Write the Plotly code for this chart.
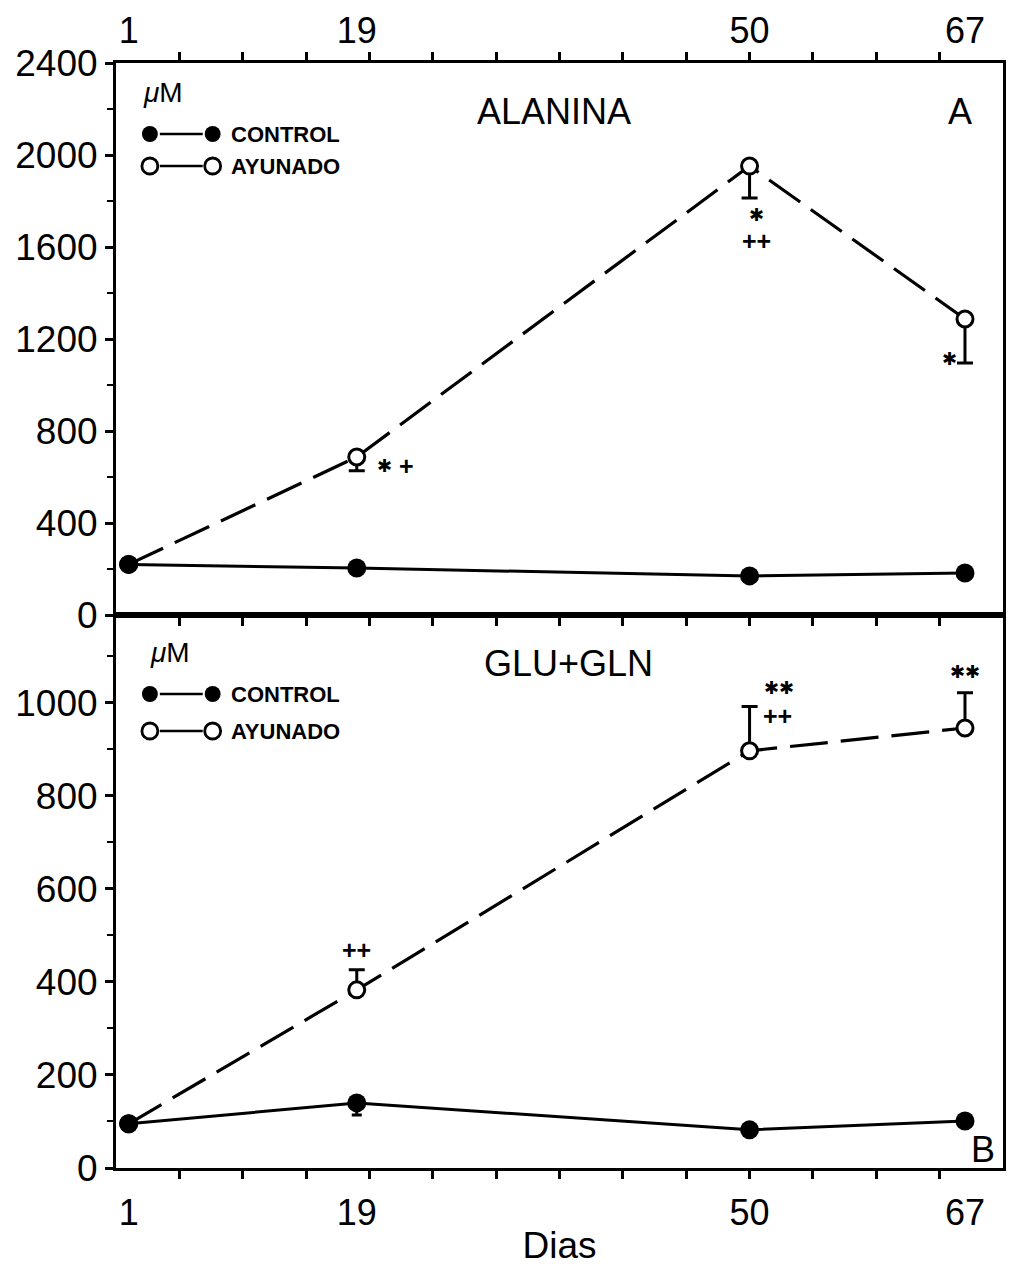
import plotly.graph_objects as go

# ---------------- data ----------------
dias = [1, 19, 50, 67]

# Alanina (uM)
ala_control = [220, 204, 170, 183]
ala_ayunado = [220, 687, 1952, 1287]
ala_ayunado_err_minus = [0, 60, 139, 191]

# Glu + Gln (uM)
glu_control = [95, 140, 82, 101]
glu_control_err_minus = [0, 26, 0, 0]
glu_ayunado = [95, 383, 897, 946]
glu_ayunado_err_plus = [0, 43, 95, 76]

day_labels = ["1", "19", "50", "67"]
minor_days = list(range(5, 70, 5))

STAR = "\u2731"

# significance marks: (panel, day index, text, dx px, dy px)
sig_marks = [
    ("A", 1, STAR, 28, -9),
    ("A", 1, "+", 50, -9),
    ("A", 2, STAR, 7, -48),
    ("A", 2, "++", 7, -75),
    ("A", 3, STAR, -15, -40),
    ("B", 1, "++", 0, 40),
    ("B", 2, STAR * 2, 29, 63),
    ("B", 2, "++", 28, 35),
    ("B", 3, STAR * 2, 0, 57),
]

# ---------------- layout geometry ----------------
W, H = 1010, 1266
ML, MR, MT, MB = 116, 4, 63, 98
PW, PH = W - ML - MR, H - MT - MB
SPLIT = (1168 - 615) / PH


def px(x):
    return (x - ML) / PW


def py(y):
    return (H - MB - y) / PH


FONT = "Liberation Sans, Arial, sans-serif"
NARROW = "Liberation Sans Narrow, Arial Narrow, Liberation Sans, Arial, sans-serif"
SYM = "DejaVu Sans, sans-serif"
DASH = "38px,13px"

fig = go.Figure()


def add_panel(xa, ya, ctrl, ayun, ctrl_err=None, ayun_err_minus=None, ayun_err_plus=None):
    ey = None
    if ayun_err_minus is not None:
        ey = dict(type="data", symmetric=False, array=[0] * len(dias),
                  arrayminus=ayun_err_minus, color="black", thickness=3, width=8)
    if ayun_err_plus is not None:
        ey = dict(type="data", symmetric=False, array=ayun_err_plus,
                  arrayminus=[0] * len(dias), color="black", thickness=3, width=8)
    fig.add_trace(go.Scatter(
        x=dias, y=ayun, xaxis=xa, yaxis=ya, mode="lines+markers",
        line=dict(color="black", width=3.2, dash=DASH),
        marker=dict(symbol="circle", size=16, color="white",
                    line=dict(color="black", width=3)),
        error_y=ey, showlegend=False, cliponaxis=False))
    ec = None
    if ctrl_err is not None:
        ec = dict(type="data", symmetric=False, array=[0] * len(dias),
                  arrayminus=ctrl_err, color="black", thickness=3, width=5)
    fig.add_trace(go.Scatter(
        x=dias, y=ctrl, xaxis=xa, yaxis=ya, mode="lines+markers",
        line=dict(color="black", width=3),
        marker=dict(symbol="circle", size=19, color="black"),
        error_y=ec, showlegend=False, cliponaxis=False))


add_panel("x", "y", ala_control, ala_ayunado, ayun_err_minus=ala_ayunado_err_minus)
add_panel("x2", "y2", glu_control, glu_ayunado, ctrl_err=glu_control_err_minus,
          ayun_err_plus=glu_ayunado_err_plus)

axis_common = dict(range=[0, 70], showgrid=False, zeroline=False,
                   showline=True, linecolor="black", linewidth=3)
lab_common = dict(range=[0, 70], showgrid=False, zeroline=False, showline=False,
                  tickmode="array", tickvals=dias, ticktext=day_labels, ticks="",
                  tickfont=dict(family=FONT, size=36, color="black"))

fig.update_layout(
    width=W, height=H, margin=dict(l=ML, r=MR, t=MT, b=MB),
    paper_bgcolor="white", plot_bgcolor="white",
    xaxis=dict(**axis_common, domain=[0, 1], anchor="y", tickmode="array",
               tickvals=minor_days, ticks="outside", ticklen=8, tickwidth=2.5,
               tickcolor="black", mirror="ticks", showticklabels=False),
    xaxis3=dict(**lab_common, overlaying="x", anchor="y", side="top",
                ticklabelstandoff=12),
    xaxis2=dict(**axis_common, domain=[0, 1], anchor="y2", tickmode="array",
                tickvals=minor_days, ticks="outside", ticklen=8, tickwidth=2.5,
                tickcolor="black", mirror=True, showticklabels=False),
    xaxis4=dict(**lab_common, overlaying="x2", anchor="y2", side="bottom",
                ticklabelstandoff=20,
                title=dict(text="Dias", font=dict(family=FONT, size=37, color="black"),
                           standoff=0)),
    yaxis=dict(domain=[SPLIT, 1], anchor="x", range=[0, 2400], tickmode="linear",
               tick0=0, dtick=400, ticks="outside", ticklen=8, tickwidth=2.5,
               tickcolor="black", showline=True, linecolor="black", linewidth=3,
               mirror=True, showgrid=False, zeroline=False,
               minor=dict(dtick=200, ticks="outside", ticklen=6, tickwidth=2,
                          tickcolor="black"),
               tickfont=dict(family=FONT, size=37, color="black")),
    yaxis2=dict(domain=[0, SPLIT], anchor="x2", range=[0, 1189], tickmode="linear",
                tick0=0, dtick=200, ticks="outside", ticklen=8, tickwidth=2.5,
                tickcolor="black", showline=True, linecolor="black", linewidth=3,
                mirror=True, showgrid=False, zeroline=False,
                minor=dict(dtick=100, ticks="outside", ticklen=6, tickwidth=2,
                           tickcolor="black"),
                tickfont=dict(family=FONT, size=37, color="black")),
)

# empty traces so the day-label axes are drawn
fig.add_trace(go.Scatter(x=[], y=[], xaxis="x3", yaxis="y", showlegend=False))
fig.add_trace(go.Scatter(x=[], y=[], xaxis="x4", yaxis="y2", showlegend=False))

annotations = []
shapes = []

# panel titles and letters
for text, x, y, size in [("ALANINA", 555, 112, 36), ("A", 963, 112, 36),
                         ("GLU+GLN", 570, 663, 36), ("B", 986, 1149, 36)]:
    annotations.append(dict(text=text, x=px(x), y=py(y), xref="paper", yref="paper",
                            showarrow=False, font=dict(family=FONT, size=size, color="black"),
                            xanchor="center", yanchor="middle"))

# unit labels
for x, y in [(163, 92), (170, 652)]:
    annotations.append(dict(text="<i>\u03bc</i>M", x=px(x), y=py(y), xref="paper",
                            yref="paper", showarrow=False,
                            font=dict(family=FONT, size=28, color="black"),
                            xanchor="center", yanchor="middle"))

# key rows: (y, filled, label)
key_rows = [(134, True, "CONTROL"), (166, False, "AYUNADO"),
            (694, True, "CONTROL"), (731, False, "AYUNADO")]
for y, filled, label in key_rows:
    r = 8
    for cx in (150, 213):
        shapes.append(dict(type="circle", xref="paper", yref="paper",
                           x0=px(cx - r), x1=px(cx + r), y0=py(y + r), y1=py(y - r),
                           fillcolor="black" if filled else "white",
                           line=dict(color="black", width=0 if filled else 2.8)))
    shapes.append(dict(type="line", xref="paper", yref="paper",
                       x0=px(160), x1=px(203), y0=py(y), y1=py(y),
                       line=dict(color="black", width=2.5)))
    annotations.append(dict(text="<b>%s</b>" % label, x=px(229), y=py(y), xref="paper",
                            yref="paper", showarrow=False, xanchor="left",
                            yanchor="middle",
                            font=dict(family=NARROW, size=22, color="black")))

# significance marks placed relative to the data points
for panel, i, text, dx, dy in sig_marks:
    if panel == "A":
        xr, yr, yv = "x", "y", ala_ayunado[i]
    else:
        xr, yr, yv = "x2", "y2", glu_ayunado[i]
    is_star = STAR in text
    annotations.append(dict(text="<b>%s</b>" % text,
                            x=dias[i], y=yv, xref=xr, yref=yr,
                            xshift=dx, yshift=dy, showarrow=False,
                            xanchor="center", yanchor="middle",
                            font=dict(family=SYM if is_star else FONT,
                                      size=18 if is_star else 25, color="black")))

fig.update_layout(annotations=annotations, shapes=shapes)

fig.write_html("out.html")
